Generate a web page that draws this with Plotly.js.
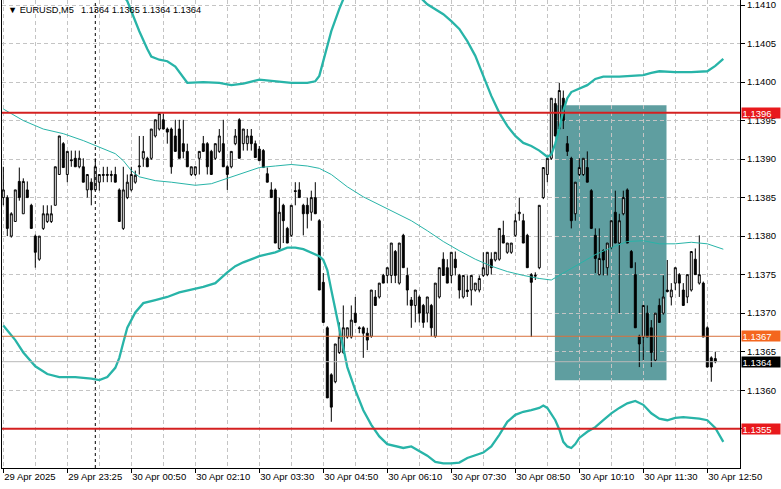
<!DOCTYPE html>
<html><head><meta charset="utf-8">
<script src="https://cdn.plot.ly/plotly-3.0.1.min.js"></script>
<style>html,body{margin:0;padding:0;background:#fff}#chart{width:781px;height:489px}</style>
</head><body><div id="chart"></div>
<script>
// EURUSD M5 bars, 29 Apr 22:05 .. 30 Apr 12:55 (bar index 0..178)
const barOpen = [1.13850,1.13850,1.13800,1.13819,1.13871,1.13829,1.13860,1.13840,1.13800,1.13770,
1.13810,1.13819,1.13819,1.13840,1.13880,1.13920,1.13880,1.13899,1.13901,1.13890,
1.13890,1.13860,1.13870,1.13860,1.13870,1.13880,1.13880,1.13880,1.13880,1.13860,
1.13810,1.13850,1.13860,1.13870,1.13890,1.13901,1.13901,1.13901,1.13930,1.13939,
1.13951,1.13939,1.13939,1.13930,1.13939,1.13920,1.13910,1.13880,1.13880,1.13901,
1.13920,1.13920,1.13910,1.13901,1.13910,1.13920,1.13890,1.13890,1.13920,1.13951,
1.13920,1.13920,1.13930,1.13920,1.13913,1.13911,1.13881,1.13860,1.13860,1.13784,
1.13840,1.13810,1.13801,1.13859,1.13860,1.13840,1.13840,1.13831,1.13850,1.13820,
1.13740,1.13681,1.13620,1.13611,1.13649,1.13649,1.13669,1.13669,1.13700,1.13681,
1.13681,1.13674,1.13670,1.13721,1.13721,1.13749,1.13749,1.13749,1.13780,1.13739,
1.13801,1.13749,1.13717,1.13710,1.13721,1.13710,1.13700,1.13710,1.13670,1.13721,
1.13770,1.13759,1.13749,1.13770,1.13749,1.13721,1.13730,1.13730,1.13730,1.13730,
1.13749,1.13750,1.13770,1.13769,1.13770,1.13801,1.13779,1.13779,1.13801,1.13829,
1.13820,1.13801,1.13750,1.13748,1.13759,1.13850,1.13880,1.13901,1.13972,1.13939,
1.13979,1.13920,1.13901,1.13829,1.13880,1.13880,1.13889,1.13859,1.13801,1.13750,
1.13781,1.13759,1.13785,1.13831,1.13791,1.13829,1.13860,1.13780,1.13750,1.13670,
1.13669,1.13700,1.13681,1.13639,1.13710,1.13700,1.13730,1.13721,1.13739,1.13750,
1.13730,1.13721,1.13730,1.13770,1.13739,1.13739,1.13681,1.13642,1.13641];
const barHigh = [1.13890,1.13853,1.13831,1.13860,1.13889,1.13875,1.13871,1.13842,1.13802,1.13800,
1.13840,1.13840,1.13840,1.13890,1.13930,1.13922,1.13910,1.13911,1.13911,1.13911,
1.13901,1.13880,1.13875,1.13901,1.13880,1.13890,1.13890,1.13885,1.13890,1.13862,
1.13890,1.13880,1.13890,1.13885,1.13930,1.13930,1.13903,1.13939,1.13951,1.13959,
1.13959,1.13941,1.13941,1.13951,1.13951,1.13951,1.13920,1.13890,1.13890,1.13910,
1.13930,1.13922,1.13912,1.13920,1.13939,1.13951,1.13892,1.13910,1.13939,1.13953,
1.13939,1.13939,1.13939,1.13924,1.13917,1.13913,1.13889,1.13870,1.13862,1.13850,
1.13842,1.13812,1.13840,1.13870,1.13870,1.13842,1.13850,1.13859,1.13870,1.13822,
1.13752,1.13683,1.13622,1.13660,1.13688,1.13710,1.13681,1.13710,1.13721,1.13683,
1.13683,1.13681,1.13730,1.13730,1.13739,1.13751,1.13759,1.13791,1.13782,1.13791,
1.13803,1.13759,1.13721,1.13730,1.13723,1.13712,1.13721,1.13712,1.13739,1.13759,
1.13779,1.13770,1.13779,1.13780,1.13751,1.13749,1.13749,1.13749,1.13739,1.13749,
1.13779,1.13779,1.13779,1.13779,1.13810,1.13820,1.13791,1.13791,1.13829,1.13850,
1.13829,1.13803,1.13752,1.13753,1.13840,1.13889,1.13901,1.13979,1.13979,1.13999,
1.13989,1.13930,1.13903,1.13870,1.13901,1.13901,1.13910,1.13861,1.13810,1.13810,
1.13783,1.13791,1.13820,1.13859,1.13829,1.13859,1.13862,1.13782,1.13766,1.13672,
1.13710,1.13710,1.13691,1.13700,1.13719,1.13749,1.13769,1.13739,1.13759,1.13752,
1.13739,1.13750,1.13780,1.13784,1.13801,1.13741,1.13683,1.13644,1.13650];
const barLow = [1.13840,1.13800,1.13798,1.13819,1.13846,1.13829,1.13850,1.13810,1.13759,1.13768,
1.13808,1.13817,1.13817,1.13840,1.13880,1.13889,1.13870,1.13890,1.13890,1.13888,
1.13870,1.13850,1.13840,1.13860,1.13859,1.13870,1.13870,1.13870,1.13870,1.13819,
1.13808,1.13848,1.13858,1.13868,1.13880,1.13890,1.13890,1.13899,1.13928,1.13937,
1.13939,1.13920,1.13881,1.13910,1.13901,1.13901,1.13890,1.13878,1.13878,1.13880,
1.13910,1.13880,1.13880,1.13899,1.13908,1.13890,1.13860,1.13888,1.13918,1.13901,
1.13911,1.13911,1.13911,1.13902,1.13898,1.13889,1.13870,1.13850,1.13791,1.13781,
1.13791,1.13791,1.13799,1.13840,1.13850,1.13801,1.13810,1.13820,1.13829,1.13730,
1.13688,1.13590,1.13559,1.13609,1.13647,1.13647,1.13667,1.13667,1.13688,1.13674,
1.13642,1.13652,1.13668,1.13710,1.13719,1.13739,1.13739,1.13739,1.13739,1.13737,
1.13759,1.13710,1.13681,1.13688,1.13688,1.13681,1.13688,1.13670,1.13668,1.13719,
1.13749,1.13739,1.13739,1.13749,1.13719,1.13719,1.13721,1.13710,1.13728,1.13727,
1.13747,1.13748,1.13750,1.13767,1.13768,1.13791,1.13777,1.13777,1.13799,1.13820,
1.13791,1.13759,1.13669,1.13743,1.13757,1.13848,1.13870,1.13899,1.13930,1.13937,
1.13939,1.13904,1.13810,1.13820,1.13878,1.13878,1.13870,1.13810,1.13752,1.13749,
1.13749,1.13749,1.13783,1.13791,1.13700,1.13827,1.13791,1.13759,1.13681,1.13630,
1.13639,1.13669,1.13630,1.13637,1.13688,1.13698,1.13727,1.13710,1.13730,1.13721,
1.13710,1.13713,1.13728,1.13750,1.13737,1.13669,1.13630,1.13611,1.13635];
const barClose = [1.13860,1.13810,1.13829,1.13860,1.13850,1.13871,1.13850,1.13810,1.13779,1.13800,
1.13829,1.13829,1.13829,1.13890,1.13930,1.13889,1.13910,1.13898,1.13890,1.13901,
1.13870,1.13880,1.13860,1.13890,1.13880,1.13879,1.13879,1.13879,1.13870,1.13819,
1.13860,1.13870,1.13880,1.13879,1.13891,1.13910,1.13890,1.13939,1.13951,1.13959,
1.13939,1.13935,1.13890,1.13910,1.13901,1.13910,1.13890,1.13890,1.13890,1.13910,
1.13910,1.13890,1.13880,1.13920,1.13930,1.13890,1.13880,1.13910,1.13930,1.13901,
1.13939,1.13930,1.13920,1.13902,1.13898,1.13889,1.13870,1.13850,1.13791,1.13831,
1.13820,1.13791,1.13840,1.13858,1.13850,1.13829,1.13829,1.13850,1.13829,1.13730,
1.13688,1.13590,1.13578,1.13660,1.13669,1.13681,1.13681,1.13691,1.13688,1.13680,
1.13674,1.13665,1.13730,1.13710,1.13739,1.13739,1.13759,1.13791,1.13749,1.13791,
1.13759,1.13730,1.13710,1.13730,1.13700,1.13688,1.13721,1.13681,1.13739,1.13759,
1.13749,1.13739,1.13779,1.13759,1.13730,1.13749,1.13728,1.13749,1.13739,1.13745,
1.13759,1.13779,1.13759,1.13779,1.13810,1.13791,1.13791,1.13791,1.13820,1.13831,
1.13791,1.13759,1.13740,1.13749,1.13840,1.13889,1.13901,1.13979,1.13930,1.13989,
1.13950,1.13910,1.13820,1.13870,1.13889,1.13901,1.13870,1.13810,1.13771,1.13771,
1.13769,1.13791,1.13820,1.13791,1.13820,1.13850,1.13791,1.13759,1.13681,1.13660,
1.13710,1.13669,1.13649,1.13700,1.13688,1.13721,1.13728,1.13730,1.13759,1.13739,
1.13710,1.13750,1.13780,1.13750,1.13750,1.13669,1.13630,1.13630,1.13637];

// Bollinger Bands (read at bar positions, drawn with 2-bar shift)
const upperIdx = [0,10,20,26,29,31,32,34,36,37,39,41,43,45,46,50,54,57,60,64,68,72,76,78,79,80,82,84,86,90,95,100,104,106,108,110,112,114,116,118,120,122,124,126,128,130,132,134,136,137,138,139,140,141,142,144,146,148,150,154,158,160,162,164,168,172,176,178,180];
const upperBand = [1.1418,1.1417,1.1416,1.1414,1.1412,1.14105,1.14092,1.14066,1.14043,1.14033,1.14029,1.14027,1.14020,1.14005,1.13999,1.14000,1.13999,1.13996,1.13998,1.14003,1.14001,1.13999,1.13999,1.14001,1.14008,1.14027,1.14066,1.14095,1.1412,1.1416,1.1417,1.1416,1.14111,1.14101,1.14095,1.14088,1.14079,1.14069,1.14053,1.14034,1.14008,1.13982,1.13960,1.13943,1.13930,1.13921,1.13917,1.13911,1.13903,1.13906,1.13920,1.13939,1.13963,1.13979,1.13987,1.13992,1.13996,1.14004,1.14007,1.14007,1.14008,1.14009,1.14012,1.14014,1.14013,1.14013,1.14014,1.14021,1.14030];
const midIdx = [0,5,10,15,20,24,28,30,32,34,38,42,46,48,52,56,60,64,68,72,76,79,82,86,90,94,98,102,106,110,114,118,122,126,130,134,137,140,144,148,152,156,160,164,168,172,176,180];
const midBand = [1.13965,1.13950,1.13939,1.13933,1.13924,1.13916,1.13907,1.13898,1.13885,1.13877,1.13872,1.13870,1.13867,1.13866,1.13868,1.13875,1.13882,1.13889,1.13891,1.13893,1.13891,1.13888,1.13880,1.13864,1.13851,1.13841,1.13831,1.13820,1.13807,1.13793,1.13781,1.13770,1.13761,1.13754,1.13749,1.13745,1.13743,1.13752,1.13765,1.13776,1.13785,1.13793,1.13794,1.13790,1.13790,1.13792,1.13790,1.13783];
const lowerIdx = [0,3,5,8,11,14,18,22,24,26,28,29,30,31,33,35,38,41,44,47,50,53,56,58,60,64,68,71,73,75,77,79,80,81,82,83,84,86,88,90,92,94,96,98,100,102,104,106,108,110,112,114,116,118,120,122,124,126,128,130,132,134,135,136,137,138,139,140,141,142,143,144,146,148,150,152,154,156,158,160,162,164,166,168,170,172,174,176,178,180];
const lowerBand = [1.13684,1.13665,1.13649,1.13631,1.13621,1.13617,1.13617,1.13615,1.13613,1.13617,1.13629,1.13642,1.13662,1.13681,1.13701,1.13713,1.13717,1.13721,1.13727,1.13730,1.13734,1.13739,1.13753,1.13761,1.13766,1.13774,1.13779,1.13785,1.13785,1.13783,1.13779,1.13774,1.13769,1.13756,1.13730,1.13704,1.13678,1.13630,1.13600,1.13574,1.13555,1.13540,1.13530,1.13527,1.13525,1.13527,1.13521,1.13515,1.13507,1.13505,1.13505,1.13506,1.13512,1.13515,1.13519,1.13527,1.13542,1.13559,1.13568,1.13572,1.13574,1.13577,1.13580,1.13577,1.13569,1.13561,1.13549,1.13533,1.13527,1.13525,1.13530,1.13538,1.13546,1.13552,1.13561,1.13570,1.13577,1.13583,1.13586,1.13581,1.13570,1.13563,1.13561,1.13564,1.13565,1.13564,1.13563,1.13561,1.13551,1.13533];

// Axis labels
const timeTickIdx = [0,16,32,48,64,80,96,112,128,144,160,176];
const timeTickText = ['29 Apr 2025','29 Apr 23:25','30 Apr 00:50','30 Apr 02:10','30 Apr 03:30','30 Apr 04:50','30 Apr 06:10','30 Apr 07:30','30 Apr 08:50','30 Apr 10:10','30 Apr 11:30','30 Apr 12:50'];
const timeGridIdx = [8,24,40,56,72,88,104,120,136,152,168];
const priceTicks = [1.1355,1.1360,1.1365,1.1370,1.1375,1.1380,1.1385,1.1390,1.1395,1.1400,1.1405,1.1410];
const priceTickText = ['','1.1360','1.1365','1.1370','1.1375','1.1380','1.1385','1.1390','1.1395','1.1400','1.1405','1.1410'];
const daySeparatorIdx = 23;

// Levels and zone
const resistance = 1.1396, support = 1.1355, pivot = 1.1367, lastPrice = 1.13637;
const zone = {fromIdx: 137.9, toIdx: 165.8, top: 1.13970, bottom: 1.13613};
// Header: symbol, timeframe and last bar's OHLC
const headerSymbol = '▼ EURUSD,M5';
const headerOHLC = ['1.1364', '1.1365', '1.1364', '1.1364'];

const FONT = '"Liberation Sans", Arial, sans-serif';
const GRID = '#c4c4c4';
const BAND = '#28b4a8';
const PLOT_W = 738, PLOT_H = 468;
const barIndex = barOpen.map((_, i) => i);

const traces = [
  {type:'scatter', mode:'lines', x:upperIdx, y:upperBand, line:{color:BAND, width:2.3}, hoverinfo:'skip'},
  {type:'scatter', mode:'lines', x:midIdx, y:midBand, line:{color:BAND, width:1}, hoverinfo:'skip'},
  {type:'scatter', mode:'lines', x:lowerIdx, y:lowerBand, line:{color:BAND, width:2.3}, hoverinfo:'skip'},
  {type:'candlestick', x:barIndex, open:barOpen, high:barHigh, low:barLow, close:barClose,
   increasing:{line:{color:'#000', width:1}, fillcolor:'#fff'},
   decreasing:{line:{color:'#000', width:1}, fillcolor:'#000'},
   whiskerwidth:0, hoverinfo:'skip'}
];

function hline(y, color, width) {
  return {type:'line', xref:'paper', x0:0, x1:1, yref:'y', y0:y, y1:y, line:{color:color, width:width}, layer:'above'};
}
function priceBox(y, text, bg, fg) {
  return {xref:'paper', x:1, xanchor:'left', xshift:1, yref:'y', y:y, yanchor:'middle', text:text, showarrow:false,
    bgcolor:bg, font:{family:FONT, size:9.5, color:fg}, width:37, height:9, align:'left', borderpad:0.5};
}
function headerText(px, text) {
  return {xref:'paper', yref:'paper', x:px / PLOT_W, y:1 - 10 / PLOT_H, xanchor:'left', yanchor:'middle',
    showarrow:false, text:text, font:{family:FONT, size:9.2, color:'#000'}};
}

const layout = {
  width:781, height:489,
  margin:{l:2, r:41, t:0, b:21, pad:0},
  paper_bgcolor:'#fff', plot_bgcolor:'#fff',
  showlegend:false,
  font:{family:FONT, size:9.5, color:'#000'},
  xaxis:{
    range:[-0.325, 184.175], tickmode:'array', tickvals:timeTickIdx, ticktext:timeTickText,
    ticklabelposition:'outside right', ticks:'outside', ticklen:4, tickcolor:'#000',
    showgrid:true, gridcolor:GRID, griddash:'4px,3px', gridwidth:1,
    minor:{tickvals:timeGridIdx, showgrid:true, gridcolor:GRID, griddash:'4px,3px', gridwidth:1, ticks:''},
    showline:true, linecolor:'#000', linewidth:1, zeroline:false,
    rangeslider:{visible:false}, fixedrange:true
  },
  yaxis:{
    side:'right', range:[1.13499, 1.141065], tickmode:'array', tickvals:priceTicks, ticktext:priceTickText,
    ticks:'outside', ticklen:4, tickcolor:'#000', ticklabeloverflow:'allow',
    showgrid:true, gridcolor:GRID, griddash:'4px,3px', gridwidth:1,
    showline:true, linecolor:'#000', linewidth:1, mirror:true, zeroline:false, fixedrange:true
  },
  shapes:[
    {type:'rect', xref:'x', yref:'y', x0:zone.fromIdx, x1:zone.toIdx, y0:zone.bottom, y1:zone.top,
     fillcolor:'#5f9ea0', line:{width:0}, layer:'below'},
    {type:'line', xref:'x', x0:daySeparatorIdx, x1:daySeparatorIdx, yref:'paper', y0:0, y1:1,
     line:{color:'#000', width:1, dash:'3px,3px'}, layer:'above'},
    hline(lastPrice, '#b8b8b8', 1),
    hline(pivot, '#d9713c', 1),
    hline(resistance, '#d42020', 2),
    hline(support, '#d42020', 2)
  ],
  annotations:[
    headerText(4, headerSymbol),
    headerText(77, headerOHLC.join(' ')),
    priceBox(resistance, '1.1396', '#e8191c', '#fff'),
    priceBox(pivot, '1.1367', '#f4661e', '#fff'),
    priceBox(lastPrice, '1.1364', '#000', '#fff'),
    priceBox(support, '1.1355', '#e8191c', '#fff')
  ]
};

Plotly.newPlot('chart', traces, layout, {displayModeBar:false, staticPlot:true});
</script>
</body></html>
